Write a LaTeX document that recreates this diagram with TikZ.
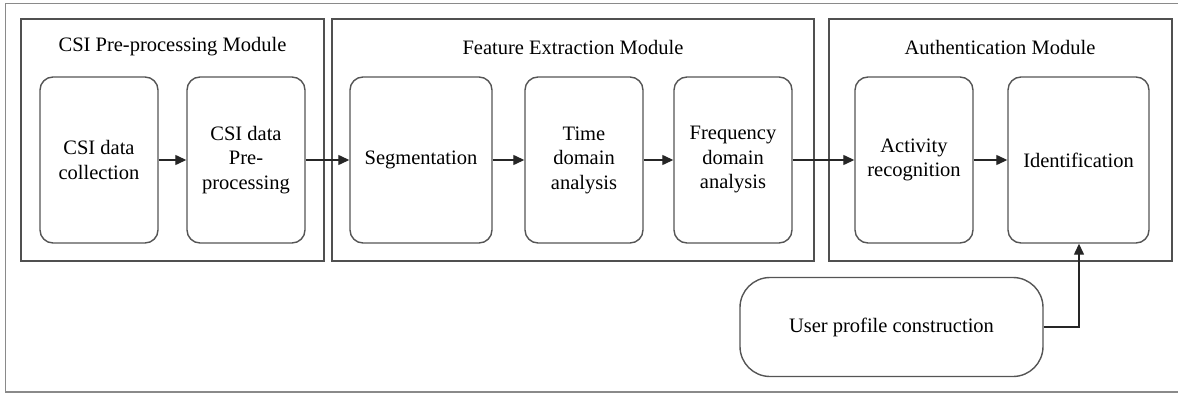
\documentclass[tikz,border=0pt]{standalone}
\usepackage{fontspec}
\setmainfont{Liberation Serif}
\usetikzlibrary{arrows.meta}
\definecolor{boxline}{HTML}{555555}
\definecolor{modline}{HTML}{505050}
\definecolor{outline}{HTML}{8A8A8A}
\begin{document}
\begin{tikzpicture}[x=1pt,y=-1pt,
  every node/.style={font=\fontsize{20.5}{24.5}\selectfont, inner sep=0pt},
  modbox/.style={draw=modline, line width=1.6pt},
  procbox/.style={draw=boxline, line width=1.4pt, rounded corners=13pt, align=center},
  bigbox/.style={draw=boxline, line width=1.4pt, rounded corners=30pt, align=center},
  flow/.style={draw=black!85, line width=1.3pt, -{Triangle[length=11pt,width=10pt]}},
  title/.style={anchor=center}]
\useasboundingbox (0,0) rectangle (1178,393);
% outer frame
\draw[outline, line width=1.8pt] (1178,3.5) -- (5.5,3.5) -- (5.5,392) -- (1178,392);
% modules
\draw[modbox] (21,19) rectangle (324,261);
\draw[modbox] (332,19) rectangle (814,261);
\draw[modbox] (829,19) rectangle (1172,261);
\node[title] (t1) at (172.5,47) {CSI Pre-processing Module};
\node[title] (t2) at (573,47) {Feature Extraction Module};
\node[title] (t3) at (1000,47) {Authentication Module};
% process boxes
\node[procbox, minimum width=118pt, minimum height=166pt] (coll) at (99,160) {CSI data\\collection};
\node[procbox, minimum width=118pt, minimum height=166pt] (pre) at (246,160) {CSI data\\Pre-\\processing};
\node[procbox, minimum width=142pt, minimum height=166pt] (seg) at (421,160) {Segmentation};
\node[procbox, minimum width=118pt, minimum height=166pt] (time) at (584,160) {Time\\domain\\analysis};
\node[procbox, minimum width=118pt, minimum height=166pt] (freq) at (733,160) {Frequency\\domain\\analysis};
\node[procbox, minimum width=118pt, minimum height=166pt] (act) at (914,160) {Activity\\recognition};
\node[procbox, minimum width=141pt, minimum height=166pt] (ident) at (1078.5,160) {Identification};
\node[bigbox, minimum width=303pt, minimum height=99pt] (user) at (891.5,327) {User profile construction};
% connectors
\draw[flow] (coll) -- (pre);
\draw[flow] (pre) -- (seg);
\draw[flow] (seg) -- (time);
\draw[flow] (time) -- (freq);
\draw[flow] (freq) -- (act);
\draw[flow] (act) -- (ident);
\coordinate (bend) at (1079,327);
\draw[flow] (user.east) -- (bend) -- (ident.south -| bend);
\end{tikzpicture}
\end{document}
